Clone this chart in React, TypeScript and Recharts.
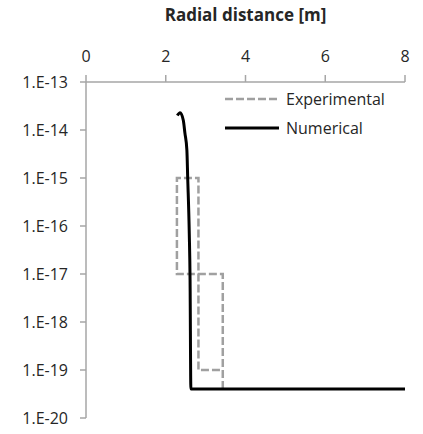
import { LineChart, Line, XAxis, YAxis, Legend, Label } from 'recharts'

const xTicks = [0, 2, 4, 6, 8]
const yTicks = [1e-20, 1e-19, 1e-18, 1e-17, 1e-16, 1e-15, 1e-14, 1e-13]

// experimental: stepped outline, drawn in this order
const expX = [3.43, 3.43, 2.28, 2.28, 2.82, 2.82, 3.43]
const expY = [4e-20, 1e-17, 1e-17, 1e-15, 1e-15, 1e-19, 1e-19]

// numerical profile
const numX = [2.29, 2.36, 2.44, 2.48, 2.53, 2.55, 2.59, 2.61, 2.63, 8]
const numY = [2.0e-14, 2.3e-14, 1.6e-14, 8.7e-15, 3.8e-15, 1.05e-15, 7e-17, 7.5e-18, 4e-20, 4e-20]

const experimental = expX.map((x, i) => ({ x, y: expY[i] }))
const numerical = numX.map((x, i) => ({ x, y: numY[i] }))

const FONT = '"Open Sans", sans-serif'
const AXIS = '#a6a6a6'
const TEXT = '#262626'

const fmtExp = (v: number) => `1.E-${Math.round(-Math.log10(v))}`

const legendStyle: Record<string, { color: string; dash?: string; width: number }> = {
  Experimental: { color: '#a0a0a0', dash: '8 3', width: 2.5 },
  Numerical: { color: '#000000', width: 3 },
}

function LegendBox({ payload }: any) {
  return (
    <div style={{ fontFamily: FONT, fontSize: 16, color: TEXT, position: 'absolute', left: 224, top: 84, width: 190 }}>
      {(payload || []).map((p: any) => {
        const s = legendStyle[p.value]
        return (
          <div key={p.value} style={{ display: 'flex', alignItems: 'center', height: 29 }}>
            <svg width={56} height={6} style={{ marginRight: 6 }}>
              <line x1={1} y1={3} x2={55} y2={3} stroke={s.color} strokeWidth={s.width} strokeDasharray={s.dash} />
            </svg>
            <span>{p.value}</span>
          </div>
        )
      })}
    </div>
  )
}

export default function App() {
  return (
    <div style={{ position: 'absolute', left: 0, top: 0, background: '#fff' }}>
      <LineChart width={423} height={434} margin={{ top: 0, right: 18, bottom: 16, left: 0 }}>
        <XAxis
          type="number"
          dataKey="x"
          orientation="top"
          domain={[0, 8]}
          ticks={xTicks}
          height={82}
          stroke={AXIS}
          strokeWidth={1.5}
          tickSize={7}
          tickMargin={13}
          tick={{ fill: TEXT, fontSize: 16, fontFamily: FONT }}
          allowDataOverflow
        >
          <Label
            value="Radial distance [m]"
            position="insideTop"
            offset={9}
            style={{ fill: TEXT, fontSize: 17, fontWeight: 700, fontFamily: FONT }}
          />
        </XAxis>
        <YAxis
          type="number"
          dataKey="y"
          scale="log"
          domain={[1e-20, 1e-13]}
          ticks={yTicks}
          tickFormatter={fmtExp}
          width={86}
          stroke={AXIS}
          strokeWidth={1.5}
          tickSize={6}
          tickMargin={12}
          tick={{ fill: TEXT, fontSize: 16, fontFamily: FONT }}
          allowDataOverflow
          interval={0}
        />
        <Legend
          layout="horizontal"
          verticalAlign="middle"
          align="center"
          content={<LegendBox />}
          wrapperStyle={{ top: 0, left: 0, width: 0, height: 0 }}
        />
        <Line
          name="Experimental"
          data={experimental}
          dataKey="y"
          stroke="#a0a0a0"
          strokeWidth={2.5}
          strokeDasharray="8 3"
          dot={false}
          isAnimationActive={false}
        />
        <Line
          name="Numerical"
          data={numerical}
          dataKey="y"
          type="monotone"
          stroke="#000000"
          strokeWidth={3}
          dot={false}
          isAnimationActive={false}
        />
      </LineChart>
    </div>
  )
}
